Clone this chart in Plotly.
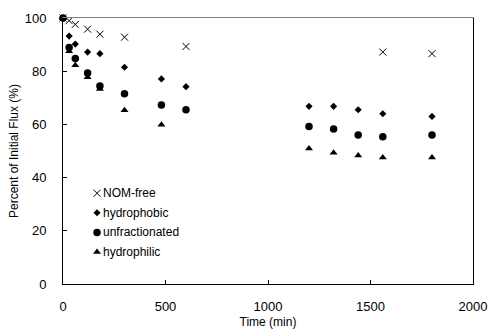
import plotly.graph_objects as go

time_min = [0, 30, 60, 120, 180, 300, 480, 600, 1200, 1320, 1440, 1560, 1800]
nom_free = [100, 99.0, 97.6, 95.8, 93.9, 92.8, None, 89.3, None, None, None, 87.2, 86.6]
hydrophobic = [100, 93.2, 90.2, 87.2, 86.6, 81.5, 77.1, 74.2, 66.8, 66.8, 65.5, 64.0, 63.0]
unfractionated = [100, 88.9, 84.8, 79.3, 74.4, 71.5, 67.3, 65.5, 59.2, 58.3, 56.0, 55.4, 56.0]
hydrophilic = [100, 87.5, 82.2, 77.7, 73.3, 65.3, 59.9, None, 50.9, 49.3, 48.3, 47.6, 47.6]

series_names = ["NOM-free", "hydrophobic", "unfractionated", "hydrophilic"]
x_ticks = [0, 500, 1000, 1500, 2000]
y_ticks = [0, 20, 40, 60, 80, 100]

FONT = "Liberation Sans, Arial, sans-serif"
styles = [
    dict(symbol="x-thin", size=7, line=dict(width=1, color="black"), color="black"),
    dict(symbol="diamond", size=5.5, color="black", line=dict(width=0)),
    dict(symbol="circle", size=7.5, color="black", line=dict(width=0)),
    dict(symbol="triangle-up", size=7, color="black", line=dict(width=0)),
]
values = [nom_free, hydrophobic, unfractionated, hydrophilic]

fig = go.Figure()
for name, vals, st in zip(series_names, values, styles):
    xs = [t for t, v in zip(time_min, vals) if v is not None]
    ys = [v for v in vals if v is not None]
    fig.add_trace(go.Scatter(x=xs, y=ys, mode="markers", name=name, marker=st,
                             showlegend=False, cliponaxis=False))

# manual legend (markers on an overlay axis in plot-area fractions, text as annotations)
leg_x = 0.083
leg_y = [0.341, 0.268, 0.194, 0.120]
for name, st, ly in zip(series_names, styles, leg_y):
    fig.add_trace(go.Scatter(x=[leg_x], y=[ly], mode="markers", marker=st,
                             xaxis="x2", yaxis="y2", showlegend=False, hoverinfo="skip",
                             cliponaxis=False))
    fig.add_annotation(x=leg_x + 0.01, y=ly, xref="x2", yref="y2", text=name,
                       showarrow=False, xanchor="left", yanchor="middle",
                       font=dict(family=FONT, size=12, color="black"))

fig.update_layout(
    width=488, height=331,
    margin=dict(l=63, r=15, t=18, b=47, autoexpand=False),
    paper_bgcolor="white", plot_bgcolor="white",
    font=dict(family=FONT, color="black"),
    xaxis=dict(range=[0, 2000], tickvals=x_ticks, ticks="inside", ticklen=4,
               tickcolor="black", showline=True, linecolor="black", linewidth=1,
               showgrid=False, zeroline=False, tickfont=dict(size=13),
               ticklabelstandoff=10, automargin=False,
               title=dict(text="Time (min)", font=dict(size=12), standoff=5)),
    yaxis=dict(range=[0, 100], tickvals=y_ticks, ticks="inside", ticklen=4,
               tickcolor="black", showline=True, linecolor="black", linewidth=1,
               showgrid=False, zeroline=False, tickfont=dict(size=13),
               ticklabelstandoff=13, automargin=False,
               title=dict(text="Percent of Initial Flux (%)", font=dict(size=12), standoff=3)),
    # frame: grey top edge, black right edge
    xaxis2=dict(range=[0, 1], overlaying="x", side="top", showline=True,
                linecolor="#808080", linewidth=1.2, showticklabels=False, ticks="",
                showgrid=False, zeroline=False, automargin=False),
    yaxis2=dict(range=[0, 1], overlaying="y", side="right", showline=True,
                linecolor="black", linewidth=1, showticklabels=False, ticks="",
                showgrid=False, zeroline=False, automargin=False),
)

fig.write_html("out.html", config={"displayModeBar": False},
               post_script="document.body.style.margin='0px';")
